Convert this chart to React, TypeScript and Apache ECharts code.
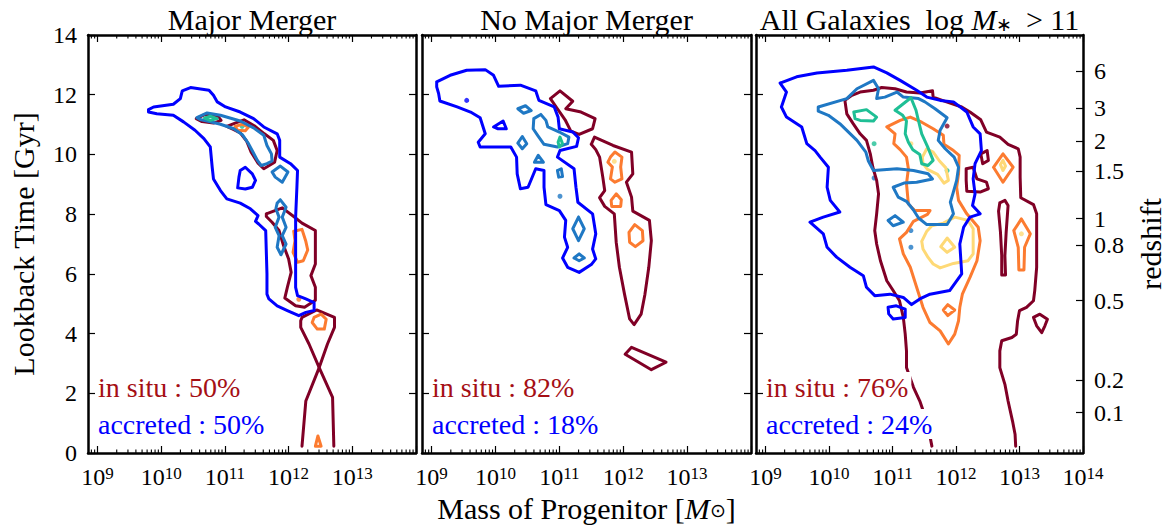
import React, { useEffect, useRef } from 'react';
import * as echarts from 'echarts';

const FONT = '"Liberation Serif", "Times New Roman", serif';

// ---------- texts & ticks ----------
const PANEL_TITLES = ['Major Merger', 'No Major Merger'];
const INSITU_PCT = [50, 82, 76];
const ACCRETED_PCT = [50, 18, 24];
const X_RANGE = [8.85, 14];
const X_MAJOR = [9, 10, 11, 12, 13, 14];
const X_LABELS = [[9, 10, 11, 12, 13], [9, 10, 11, 12, 13], [9, 10, 11, 12, 13, 14]];
const Z_LABELS = ['6', '3', '2', '1.5', '1', '0.8', '0.5', '0.2', '0.1'];
const Z_LOOKBACK = [12.8, 11.55, 10.45, 9.45, 7.85, 6.95, 5.1, 2.45, 1.35];
const X_MINOR: number[] = [];
for (let d = 8; d <= 13; d++) for (let k = 2; k <= 9; k++) {
  const v = d + Math.log10(k);
  if (v > X_RANGE[0] && v < X_RANGE[1]) X_MINOR.push(v);
}

const COLORS: Record<string, string> = {
  red: '#800026', orange: '#fc7b30', yellow: '#fed976',
  blue: '#0000ff', mid: '#1f78c4', teal: '#1fbf95',
};

// ---------- Panel 1: Major Merger (x = log10 M, y = lookback Gyr) ----------
const P1_BLUE_OUTER = [[9.80,11.50],[9.88,11.59],[10.19,11.68],[10.30,11.87],[10.33,12.13],[10.46,12.24],[10.75,12.15],[10.82,11.98],[10.88,11.76],[11.01,11.59],[11.24,11.42],[11.45,11.20],[11.61,10.92],[11.82,10.69],[11.86,10.47],[11.86,9.91],[12.03,9.69],[12.14,9.46],[12.13,8.90],[12.11,7.90],[12.11,6.44],[12.11,5.55],[12.14,5.27],[12.27,5.16],[12.40,5.04],[12.40,4.77],[12.27,4.71],[12.16,4.60],[11.98,4.77],[11.82,4.93],[11.69,5.16],[11.66,5.32],[11.66,6.00],[11.64,7.45],[11.53,7.67],[11.48,7.76],[11.52,7.95],[11.40,8.18],[11.24,8.37],[11.03,8.51],[10.93,8.79],[10.82,9.18],[10.80,9.57],[10.77,10.25],[10.67,10.53],[10.53,10.81],[10.35,11.09],[10.19,11.31],[9.93,11.36],[9.80,11.42]];
const P1_BLUE_D = [[11.24,9.46],[11.32,9.57],[11.43,9.35],[11.48,9.13],[11.43,8.90],[11.32,8.84],[11.20,8.88],[11.22,9.24]];
const P1_MID_A = [[10.56,11.23],[10.72,11.39],[10.93,11.31],[11.24,11.12],[11.45,10.89],[11.61,10.64],[11.66,10.30],[11.73,10.02],[11.74,9.78],[11.66,9.69],[11.57,9.63],[11.51,9.80],[11.44,10.08],[11.37,10.36],[11.27,10.67],[11.14,10.86],[10.93,11.01],[10.72,11.12],[10.61,11.17]];
const P1_MID_B = [[11.74,9.41],[11.87,9.61],[11.99,9.41],[11.90,9.07],[11.79,9.24]];
const P1_MID_C = [[11.87,8.48],[11.96,8.23],[11.90,7.90],[11.96,7.56],[11.90,7.28],[11.96,7.00],[11.88,6.64],[11.82,6.89],[11.85,7.28],[11.79,7.56],[11.85,7.90],[11.80,8.18],[11.82,8.37]];
const P1_RED_A = [[10.55,11.20],[10.69,11.34],[10.90,11.25],[10.94,11.14],[10.82,11.05],[10.64,11.10]];
const P1_RED_B = [[11.03,10.94],[11.16,11.05],[11.30,11.16],[11.46,10.96],[11.62,10.69],[11.76,10.47],[11.82,10.13],[11.78,9.74],[11.61,9.52],[11.52,9.71],[11.41,10.08],[11.34,10.45],[11.24,10.72],[11.14,10.83]];
const P1_RED_C = [[11.65,8.01],[11.90,8.21],[12.08,7.92],[12.21,7.70],[12.42,7.45],[12.42,6.33],[12.35,5.94],[12.42,5.55],[12.42,5.12],[12.25,4.88],[12.11,4.93],[11.94,5.19],[11.98,5.55],[12.04,6.05],[12.00,6.50],[11.92,6.95],[11.85,7.45],[11.74,7.73],[11.65,7.92]];
const P1_RED_D = [[12.21,4.54],[12.44,4.79],[12.72,4.54],[12.72,4.21],[12.61,3.65],[12.48,2.86],[12.32,3.65],[12.19,4.21],[12.19,4.43]];
const P1_RED_E = [[12.21,0.23],[12.27,1.74],[12.48,2.86],[12.69,1.86],[12.71,0.23]];
const P1_ORANGE_A = [[11.16,10.94],[11.27,11.01],[11.37,10.92],[11.32,10.79],[11.20,10.81]];
const P1_ORANGE_B = [[12.08,7.43],[12.21,7.49],[12.27,7.09],[12.30,6.80],[12.23,6.44],[12.14,6.39],[12.07,6.72],[12.10,7.11]];
const P1_ORANGE_C = [[12.40,4.54],[12.51,4.65],[12.59,4.48],[12.56,4.15],[12.45,4.15],[12.37,4.37]];
const P1_ORANGE_D = [[12.42,0.23],[12.46,0.57],[12.51,0.23]];
const P1_TEAL_A = [[10.68,11.22],[10.77,11.28],[10.88,11.20],[10.77,11.14]];
const P1_DOTS = [[12.16,5.15,'orange'],[11.27,10.94,'teal']];

// ---------- Panel 2: No Major Merger ----------
const P2_BLUE_OUTER = [[9.08,12.43],[9.29,12.65],[9.55,12.82],[9.84,12.84],[9.97,12.65],[10.05,12.28],[10.39,12.32],[10.63,12.13],[10.68,11.81],[10.92,11.59],[10.98,11.25],[11.00,10.86],[11.21,10.75],[11.30,10.56],[11.27,10.27],[11.01,10.13],[10.97,9.91],[11.23,9.52],[11.26,8.90],[11.29,8.40],[11.52,8.01],[11.57,7.34],[11.52,6.83],[11.57,6.50],[11.50,6.31],[11.31,6.05],[11.13,6.22],[11.05,6.53],[11.13,6.89],[11.08,7.23],[11.10,7.79],[11.00,8.12],[10.79,8.32],[10.76,8.90],[10.76,9.46],[10.63,9.52],[10.51,8.90],[10.39,8.85],[10.34,9.35],[10.33,9.91],[10.24,10.25],[10.08,10.25],[9.76,10.25],[9.73,10.41],[9.84,10.69],[9.76,11.23],[9.61,11.42],[9.40,11.59],[9.13,11.79],[9.11,12.04],[9.08,12.26]];
const P2_BLUE_B = [[9.97,10.92],[10.12,11.12],[10.17,10.86],[10.04,10.86]];
const P2_MID_A = [[10.35,11.53],[10.47,11.63],[10.56,11.47],[10.44,11.38]];
const P2_MID_B = [[10.60,11.20],[10.71,11.34],[10.79,11.14],[10.82,10.92],[11.00,10.75],[11.15,10.58],[11.13,10.36],[10.97,10.25],[10.76,10.34],[10.66,10.64],[10.59,10.86]];
const P2_MID_C = [[10.35,10.38],[10.42,10.60],[10.49,10.36],[10.42,10.19]];
const P2_MID_D = [[10.61,9.74],[10.67,9.97],[10.75,9.74]];
const P2_MID_E = [[10.97,9.46],[11.03,9.52],[11.05,9.26],[10.99,9.24]];
const P2_MID_F = [[11.30,7.90],[11.39,7.51],[11.30,7.11],[11.21,7.51]];
const P2_MID_G = [[11.23,6.53],[11.31,6.67],[11.39,6.53],[11.31,6.44]];
const P2_TEAL_A = [[10.98,10.41],[11.01,10.58],[11.05,10.36],[11.00,10.25]];
const P2_RED_A = [[10.86,11.87],[11.01,12.13],[11.21,11.78],[11.10,11.53],[11.34,11.42],[11.56,11.20],[11.52,10.86],[11.31,10.67],[11.18,10.78],[11.09,11.16],[10.97,11.53]];
const P2_RED_B = [[11.50,10.34],[11.55,10.58],[11.84,10.30],[12.13,10.08],[12.15,9.35],[12.05,9.07],[12.13,8.57],[12.15,8.10],[12.41,7.79],[12.44,7.11],[12.40,6.22],[12.34,5.32],[12.28,4.65],[12.17,4.30],[12.10,4.49],[12.02,5.32],[11.94,6.22],[11.89,7.06],[11.86,8.01],[11.71,8.26],[11.63,8.55],[11.71,8.79],[11.68,9.24],[11.63,9.91],[11.57,10.16]];
const P2_RED_C = [[12.03,3.31],[12.13,3.54],[12.67,3.04],[12.44,2.79]];
const P2_ORANGE_A = [[11.80,9.91],[11.87,10.08],[11.98,9.91],[11.96,9.58],[11.98,9.18],[11.87,9.07],[11.80,9.18],[11.83,9.58],[11.76,9.74]];
const P2_ORANGE_B = [[11.81,8.46],[11.89,8.68],[11.97,8.48],[11.96,8.26],[11.82,8.26]];
const P2_ORANGE_C = [[12.09,7.39],[12.18,7.65],[12.30,7.45],[12.31,7.11],[12.19,6.91],[12.10,7.06]];
const P2_DOTS = [[9.55,11.81,'blue'],[11.01,8.60,'mid'],[11.86,9.77,'yellow']];

// ---------- Panel 3: All Galaxies ----------
const P3_BLUE_OUTER = [[9.23,12.39],[9.49,12.60],[9.81,12.73],[10.28,12.82],[10.70,12.93],[10.91,12.73],[11.12,12.48],[11.38,12.15],[11.54,11.92],[11.75,11.81],[11.96,11.76],[12.17,11.42],[12.27,10.92],[12.38,10.69],[12.40,10.13],[12.30,9.69],[12.27,9.18],[12.30,8.68],[12.26,8.29],[12.38,8.01],[12.22,7.90],[12.12,7.56],[12.06,7.00],[12.09,6.00],[11.90,5.44],[11.59,5.32],[11.43,5.16],[11.30,4.97],[11.17,5.21],[10.96,5.32],[10.72,5.27],[10.59,5.55],[10.54,5.94],[10.33,6.22],[10.12,6.56],[9.97,6.89],[9.91,7.34],[9.70,7.73],[9.91,7.90],[10.17,8.07],[10.02,8.46],[9.97,8.90],[9.99,9.57],[9.86,9.91],[9.78,10.13],[9.65,10.36],[9.57,10.92],[9.33,11.25],[9.25,11.59],[9.33,12.09]];
const P3_BLUE_SQ = [[10.93,4.88],[11.06,4.93],[11.20,4.82],[11.20,4.54],[11.01,4.49],[10.94,4.66]];
const P3_MID_A = [[9.83,11.59],[10.28,11.87],[10.44,12.20],[10.70,12.48],[10.78,12.20],[10.75,11.87],[10.88,11.92],[11.07,12.09],[11.17,11.92],[11.41,11.87],[11.51,11.76],[11.67,11.53],[11.86,11.23],[11.75,10.81],[11.72,10.47],[11.83,10.19],[11.97,9.91],[12.04,9.57],[12.01,9.13],[11.95,8.68],[11.91,8.40],[11.96,8.01],[11.86,7.65],[11.54,7.65],[11.41,7.87],[11.33,8.14],[11.22,8.43],[11.09,8.57],[11.01,8.90],[11.18,9.04],[11.38,9.07],[11.63,9.18],[11.56,9.35],[11.33,9.46],[11.07,9.52],[10.70,9.46],[10.62,9.78],[10.58,10.08],[10.44,10.47],[10.17,11.03],[9.99,11.31],[9.83,11.45]];
const P3_MID_B = [[10.93,7.79],[11.04,7.95],[11.17,7.73],[11.01,7.61]];
const P3_TEAL_A = [[10.39,11.42],[10.59,11.50],[10.75,11.25],[10.70,11.12],[10.49,11.14],[10.41,11.20]];
const P3_TEAL_B = [[11.04,11.48],[11.29,11.90],[11.37,11.48],[11.41,11.12],[11.46,10.69],[11.55,10.27],[11.64,9.80],[11.56,9.63],[11.46,9.69],[11.43,10.00],[11.32,10.16],[11.25,10.41],[11.20,10.69],[11.22,11.12],[11.16,11.31]];
const P3_ORANGE_A = [[10.91,10.92],[11.12,11.14],[11.28,11.25],[11.46,11.08],[11.64,10.86],[11.80,10.64],[11.81,10.34],[11.96,10.13],[12.05,9.97],[12.04,9.35],[12.01,8.90],[12.04,8.46],[12.17,8.01],[12.35,7.56],[12.38,7.11],[12.33,6.44],[12.22,5.88],[12.10,5.32],[12.06,4.88],[12.04,4.43],[11.98,3.98],[11.88,3.65],[11.75,4.09],[11.59,4.37],[11.48,4.88],[11.38,5.55],[11.28,6.22],[11.17,6.67],[11.11,7.17],[11.22,7.39],[11.33,7.76],[11.55,7.99],[11.59,8.12],[11.35,8.12],[11.25,8.34],[11.22,9.02],[11.25,9.52],[11.22,9.91],[11.12,10.16],[11.02,10.36],[11.04,10.69]];
const P3_ORANGE_B = [[11.80,4.79],[11.87,4.97],[11.98,4.79],[11.87,4.60]];
const P3_ORANGE_C = [[12.59,9.57],[12.74,10.02],[12.90,9.57],[12.74,9.07]];
const P3_ORANGE_D = [[12.91,7.45],[13.03,7.84],[13.17,7.34],[13.08,6.89],[13.07,6.13],[12.99,6.13],[12.98,6.89]];
const P3_YELLOW_A = [[11.47,9.91],[11.54,10.19],[11.64,10.08],[11.74,9.78],[11.84,9.55],[11.88,9.13],[11.81,9.04],[11.71,9.33],[11.55,9.50],[11.48,9.69]];
const P3_YELLOW_B = [[11.46,7.09],[11.54,7.43],[11.62,7.61],[11.80,7.70],[11.98,7.90],[12.19,7.79],[12.27,7.51],[12.27,6.67],[12.19,6.44],[11.96,6.35],[11.75,6.20],[11.64,6.33],[11.56,6.55],[11.48,6.83]];
const P3_YELLOW_C = [[11.76,6.91],[11.86,7.20],[11.98,6.89],[11.86,6.72]];
const P3_YELLOW_D = [[12.70,9.66],[12.74,9.80],[12.78,9.61],[12.74,9.46]];
const P3_RED_BIG = [[11.62,0.23],[11.55,1.00],[11.43,1.74],[11.33,2.20],[11.22,2.86],[11.22,3.42],[11.20,3.98],[11.17,4.54],[11.11,5.10],[11.01,5.44],[10.91,5.77],[10.81,6.44],[10.75,7.00],[10.72,7.45],[10.75,8.01],[10.78,8.68],[10.75,9.13],[10.69,9.57],[10.65,10.02],[10.59,10.47],[10.49,10.69],[10.38,11.03],[10.28,11.36],[10.25,11.81],[10.36,11.98],[10.49,12.09],[10.70,12.15],[10.83,12.24],[11.04,12.20],[11.22,12.09],[11.43,12.06],[11.63,12.13],[11.64,11.92],[11.85,11.76],[12.09,11.59],[12.22,11.42],[12.39,11.16],[12.48,10.75],[12.69,10.58],[12.82,10.34],[12.98,10.19],[13.01,9.91],[13.01,9.24],[13.02,8.55],[13.22,8.32],[13.27,8.01],[13.27,7.11],[13.27,6.22],[13.24,5.44],[13.22,5.10],[13.11,4.88],[13.00,4.77],[12.97,4.43],[12.95,3.98],[12.88,3.87],[12.72,3.76],[12.69,3.42],[12.69,2.86],[12.77,2.30],[12.82,1.74],[12.89,1.07],[12.93,0.63],[12.94,0.23]];
const P3_RED_A = [[12.39,10.02],[12.49,10.13],[12.51,9.80],[12.42,9.69]];
const P3_RED_B = [[12.16,9.52],[12.27,9.57],[12.33,9.18],[12.48,9.07],[12.51,8.85],[12.38,8.74],[12.17,8.77],[12.16,9.14]];
const P3_RED_C = [[12.69,8.38],[12.77,8.46],[12.82,8.29],[12.79,7.40],[12.77,6.61],[12.78,5.96],[12.72,5.96],[12.72,6.61],[12.70,7.40],[12.67,8.10]];
const P3_RED_D = [[13.22,4.54],[13.32,4.65],[13.44,4.48],[13.40,4.26],[13.35,4.03],[13.27,4.26]];
const P3_DOTS = [[11.86,10.95,'red'],[11.29,10.36,'yellow'],[13.03,7.34,'yellow'],[10.71,10.36,'teal'],[11.86,9.46,'teal'],[10.71,9.21,'mid'],[11.29,7.45,'mid'],[11.29,6.89,'mid']];

type C = { c: string; pts: number[][]; open?: boolean };
const PANELS: { contours: C[]; dots: any[] }[] = [
  {
    contours: [
      { c: 'red', pts: P1_RED_A }, { c: 'red', pts: P1_RED_B }, { c: 'red', pts: P1_RED_C }, { c: 'red', pts: P1_RED_D }, { c: 'red', pts: P1_RED_E, open: true },
      { c: 'orange', pts: P1_ORANGE_A }, { c: 'orange', pts: P1_ORANGE_B }, { c: 'orange', pts: P1_ORANGE_C }, { c: 'orange', pts: P1_ORANGE_D },
      { c: 'blue', pts: P1_BLUE_OUTER }, { c: 'blue', pts: P1_BLUE_D },
      { c: 'mid', pts: P1_MID_A }, { c: 'mid', pts: P1_MID_B }, { c: 'mid', pts: P1_MID_C },
      { c: 'teal', pts: P1_TEAL_A },
    ],
    dots: P1_DOTS,
  },
  {
    contours: [
      { c: 'red', pts: P2_RED_A }, { c: 'red', pts: P2_RED_B }, { c: 'red', pts: P2_RED_C },
      { c: 'orange', pts: P2_ORANGE_A }, { c: 'orange', pts: P2_ORANGE_B }, { c: 'orange', pts: P2_ORANGE_C },
      { c: 'blue', pts: P2_BLUE_OUTER }, { c: 'blue', pts: P2_BLUE_B },
      { c: 'mid', pts: P2_MID_A }, { c: 'mid', pts: P2_MID_B }, { c: 'mid', pts: P2_MID_C }, { c: 'mid', pts: P2_MID_D },
      { c: 'mid', pts: P2_MID_E }, { c: 'mid', pts: P2_MID_F }, { c: 'mid', pts: P2_MID_G },
      { c: 'teal', pts: P2_TEAL_A },
    ],
    dots: P2_DOTS,
  },
  {
    contours: [
      { c: 'red', pts: P3_RED_BIG, open: true }, { c: 'red', pts: P3_RED_A }, { c: 'red', pts: P3_RED_B }, { c: 'red', pts: P3_RED_C }, { c: 'red', pts: P3_RED_D },
      { c: 'orange', pts: P3_ORANGE_A }, { c: 'orange', pts: P3_ORANGE_B }, { c: 'orange', pts: P3_ORANGE_C }, { c: 'orange', pts: P3_ORANGE_D },
      { c: 'yellow', pts: P3_YELLOW_A }, { c: 'yellow', pts: P3_YELLOW_B }, { c: 'yellow', pts: P3_YELLOW_C }, { c: 'yellow', pts: P3_YELLOW_D },
      { c: 'blue', pts: P3_BLUE_OUTER }, { c: 'blue', pts: P3_BLUE_SQ },
      { c: 'mid', pts: P3_MID_A }, { c: 'mid', pts: P3_MID_B },
      { c: 'teal', pts: P3_TEAL_A }, { c: 'teal', pts: P3_TEAL_B },
    ],
    dots: P3_DOTS,
  },
];

// ---------- layout ----------
const GRID_LEFT = [88, 422, 756];
const GRID_WIDTH = [328, 329, 327];
const GRID_TOP = 35;
const GRID_HEIGHT = 418;

const AXIS_LINE = { show: true, onZero: false, lineStyle: { color: '#000', width: 2.5 } };
const TICK_STYLE = { color: '#000', width: 1.2 };

function buildOption() {
  const grid = GRID_LEFT.map((l, i) => ({ left: l, top: GRID_TOP, width: GRID_WIDTH[i], height: GRID_HEIGHT }));
  const xAxis: any[] = [];
  const yAxis: any[] = [];
  const series: any[] = [];
  const graphic: any[] = [];

  for (let i = 0; i < 3; i++) {
    xAxis.push({
      gridIndex: i, type: 'value', min: X_RANGE[0], max: X_RANGE[1], position: 'bottom',
      axisLine: AXIS_LINE,
      axisTick: { show: true, inside: true, length: 7, customValues: X_MAJOR, lineStyle: TICK_STYLE },
      axisLabel: {
        show: true, customValues: X_LABELS[i], margin: 12, color: '#000', fontSize: 24, fontFamily: FONT,
        formatter: (v: number) => `{b|10}{s|${Math.round(v)}}`,
        rich: {
          b: { fontSize: 24, fontFamily: FONT, color: '#000', lineHeight: 24, verticalAlign: 'bottom' },
          s: { fontSize: 17, fontFamily: FONT, color: '#000', lineHeight: 17, verticalAlign: 'top' },
        },
      },
      splitLine: { show: false },
    });
    xAxis.push({
      gridIndex: i, type: 'value', min: X_RANGE[0], max: X_RANGE[1], position: 'top',
      axisLine: AXIS_LINE,
      axisTick: { show: true, inside: true, length: 7, customValues: X_MAJOR, lineStyle: TICK_STYLE },
      axisLabel: { show: false }, splitLine: { show: false },
    });
    yAxis.push({
      gridIndex: i, type: 'value', min: 0, max: 14, interval: 2, position: 'left',
      axisLine: AXIS_LINE,
      axisTick: { show: true, inside: true, length: 7, lineStyle: TICK_STYLE },
      axisLabel: { show: i === 0, fontSize: 24, fontFamily: FONT, color: '#000', margin: 11 },
      name: i === 0 ? 'Lookback Time [Gyr]' : '', nameLocation: 'middle', nameGap: 50, nameRotate: 90,
      nameTextStyle: { fontSize: 30, fontFamily: FONT, color: '#000' },
      splitLine: { show: false },
    });
    if (i < 2) {
      yAxis.push({
        gridIndex: i, type: 'value', min: 0, max: 14, interval: 2, position: 'right',
        axisLine: AXIS_LINE,
        axisTick: { show: true, inside: true, length: 7, lineStyle: TICK_STYLE },
        axisLabel: { show: false }, splitLine: { show: false },
      });
    } else {
      yAxis.push({
        gridIndex: i, type: 'value', min: 0, max: 14, position: 'right',
        axisLine: AXIS_LINE,
        axisTick: { show: true, inside: true, length: 7, customValues: Z_LOOKBACK, lineStyle: TICK_STYLE },
        axisLabel: {
          show: true, customValues: Z_LOOKBACK, fontSize: 24, fontFamily: FONT, color: '#000', margin: 11,
          formatter: (v: number) => {
            const k = Z_LOOKBACK.findIndex((t) => Math.abs(t - v) < 1e-6);
            return k >= 0 ? Z_LABELS[k] : '';
          },
        },
        name: 'redshift', nameLocation: 'middle', nameGap: 52, nameRotate: 90,
        nameTextStyle: { fontSize: 30, fontFamily: FONT, color: '#000' },
        splitLine: { show: false },
      });
    }

    const panel = PANELS[i];
    panel.contours.forEach((ct) => {
      series.push({
        type: 'line', xAxisIndex: 2 * i, yAxisIndex: 2 * i,
        data: ct.open ? ct.pts : [...ct.pts, ct.pts[0]],
        showSymbol: false, symbol: 'none', silent: true,
        lineStyle: { color: COLORS[ct.c], width: 3, join: 'round', cap: 'round' },
      });
    });
    panel.dots.forEach((d: any) => {
      series.push({
        type: 'scatter', xAxisIndex: 2 * i, yAxisIndex: 2 * i, silent: true,
        data: [[d[0], d[1]]], symbolSize: 5, itemStyle: { color: COLORS[d[2]] },
      });
    });
    series.push({
      type: 'custom', xAxisIndex: 2 * i, yAxisIndex: 2 * i, silent: true,
      data: X_MINOR.map((v) => [v, 0]),
      renderItem: (_p: any, api: any) => {
        const v = api.value(0);
        const b = api.coord([v, 0]);
        const t = api.coord([v, 14]);
        return {
          type: 'group',
          children: [
            { type: 'line', shape: { x1: b[0], y1: b[1], x2: b[0], y2: b[1] - 3.5 }, style: { stroke: '#000', lineWidth: 1.1 } },
            { type: 'line', shape: { x1: t[0], y1: t[1], x2: t[0], y2: t[1] + 3.5 }, style: { stroke: '#000', lineWidth: 1.1 } },
          ],
        };
      },
    });

    // percentages
    const tx = GRID_LEFT[i] + 7;
    graphic.push({
      type: 'text', x: tx, y: 387, z: 100,
      style: { text: `in situ : ${INSITU_PCT[i]}%`, fill: '#a50f15', font: `28px ${FONT}`, textAlign: 'left', textVerticalAlign: 'middle', backgroundColor: '#fff', padding: [1, 3] },
    });
    graphic.push({
      type: 'text', x: tx, y: 424, z: 100,
      style: { text: `accreted : ${ACCRETED_PCT[i]}%`, fill: '#0000ff', font: `28px ${FONT}`, textAlign: 'left', textVerticalAlign: 'middle', backgroundColor: '#fff', padding: [1, 3] },
    });
  }

  const cx = GRID_LEFT.map((l, i) => l + GRID_WIDTH[i] / 2);
  PANEL_TITLES.forEach((t, i) => {
    graphic.push({ type: 'text', x: cx[i], y: 19, z: 100, style: { text: t, fill: '#000', font: `30px ${FONT}`, textAlign: 'center', textVerticalAlign: 'middle' } });
  });
  graphic.push({
    type: 'text', x: cx[2], y: 19, z: 100,
    style: {
      text: '{n|All Galaxies  log }{i|M}{sub|∗}{n| > 11}', textAlign: 'center', textVerticalAlign: 'middle',
      rich: {
        n: { fontSize: 30, fontFamily: FONT, fill: '#000', color: '#000', lineHeight: 30, verticalAlign: 'middle' },
        i: { fontSize: 30, fontFamily: FONT, fontStyle: 'italic', fill: '#000', color: '#000', lineHeight: 30, verticalAlign: 'middle' },
        sub: { fontSize: 19, fontFamily: FONT, fill: '#000', color: '#000', lineHeight: 18, verticalAlign: 'bottom', padding: [0, 6, 0, 0] },
      },
    },
  });
  graphic.push({
    type: 'text', x: cx[1], y: 508, z: 100,
    style: {
      text: '{n|Mass of Progenitor [}{i|M}{sub|⊙}{n|]}', textAlign: 'center', textVerticalAlign: 'middle',
      rich: {
        n: { fontSize: 30, fontFamily: FONT, fill: '#000', color: '#000', lineHeight: 24, verticalAlign: 'middle' },
        i: { fontSize: 30, fontFamily: FONT, fontStyle: 'italic', fill: '#000', color: '#000', lineHeight: 24, verticalAlign: 'middle' },
        sub: { fontSize: 19, fontFamily: FONT, fill: '#000', color: '#000', lineHeight: 14, verticalAlign: 'bottom' },
      },
    },
  });

  return { animation: false, grid, xAxis, yAxis, series, graphic };
}

export default function App() {
  const ref = useRef<HTMLDivElement>(null);
  useEffect(() => {
    document.body.style.margin = '0';
    if (!ref.current) return;
    const chart = echarts.init(ref.current, null, { renderer: 'svg' });
    chart.setOption(buildOption() as any);
    return () => chart.dispose();
  }, []);
  return <div ref={ref} style={{ width: 1168, height: 529, background: '#fff' }} />;
}
